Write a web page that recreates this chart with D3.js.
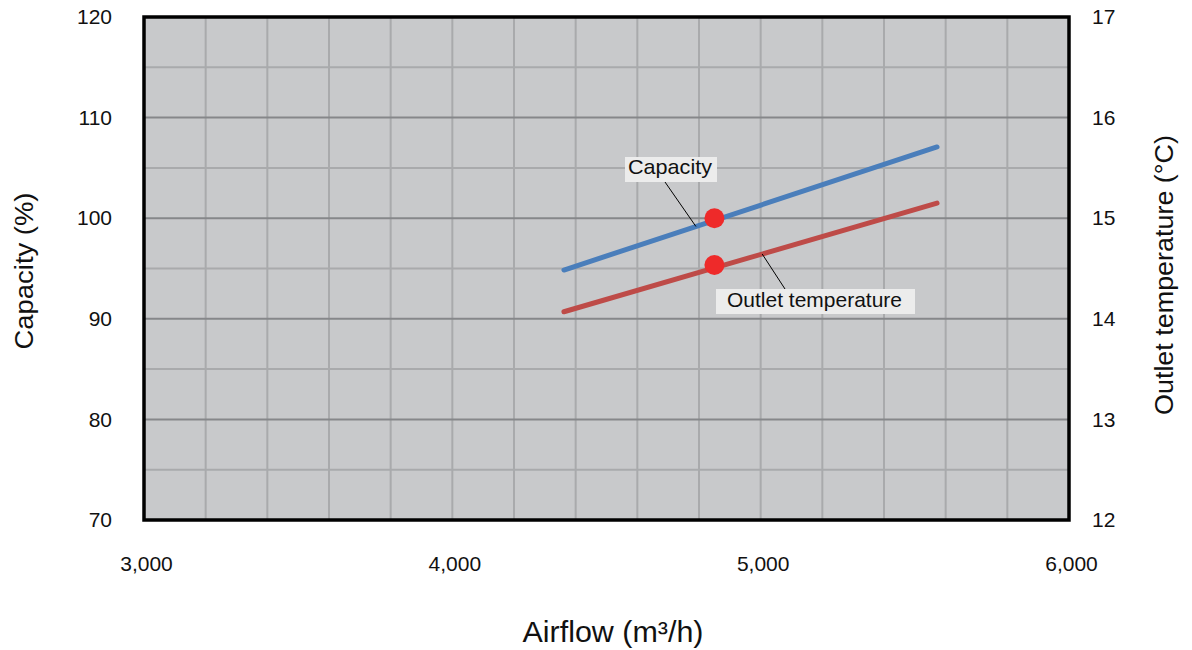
<!DOCTYPE html>
<html><head><meta charset="utf-8">
<script src="https://cdn.jsdelivr.net/npm/d3@7"></script>
<style>body{margin:0;background:#fff;} text{font-family:"Liberation Sans",Arial,sans-serif;}</style>
</head><body>
<svg id="c" width="1192" height="650"></svg>
<script>
const airflow = [4362, 5572];
const capacity = [94.85, 107.08];
const outletTemp = [14.07, 15.15];
const markerAirflow = [4850];
const markerCapacity = [100];
const markerTemp = [14.535];
const xTicks = [3000, 4000, 5000, 6000];
const yLeftTicks = [70, 80, 90, 100, 110, 120];
const yRightTicks = [12, 13, 14, 15, 16, 17];

const svg = d3.select("#c");
const FONT = "Liberation Sans, Arial, sans-serif";
const L = 144, R = 1069, T = 17, B = 520;
const x = d3.scaleLinear().domain([3000, 6000]).range([L, R]);
const y = d3.scaleLinear().domain([70, 120]).range([B, T]);
const y2 = d3.scaleLinear().domain([12, 17]).range([B, T]);

svg.append("rect").attr("x", L).attr("y", T).attr("width", R - L).attr("height", B - T).attr("fill", "#c8c9cb");

// vertical grid
svg.append("g").selectAll("line").data(d3.range(3200, 6000, 200)).join("line")
  .attr("x1", d => x(d)).attr("x2", d => x(d)).attr("y1", T).attr("y2", B)
  .attr("stroke", "#a9aaac").attr("stroke-width", 2);
// horizontal minor
svg.append("g").selectAll("line").data(d3.range(75, 120, 10)).join("line")
  .attr("x1", L).attr("x2", R).attr("y1", d => y(d)).attr("y2", d => y(d))
  .attr("stroke", "#a9aaac").attr("stroke-width", 2);
// horizontal major
svg.append("g").selectAll("line").data(d3.range(80, 120, 10)).join("line")
  .attr("x1", L).attr("x2", R).attr("y1", d => y(d)).attr("y2", d => y(d))
  .attr("stroke", "#86878a").attr("stroke-width", 2);

svg.append("rect").attr("x", L).attr("y", T).attr("width", R - L).attr("height", B - T)
  .attr("fill", "none").attr("stroke", "#000").attr("stroke-width", 3.5);

// axes via d3
const gx = svg.append("g").attr("transform", `translate(2,556)`)
  .call(d3.axisBottom(x).tickValues(xTicks).tickFormat(d3.format(",")).tickSize(0).tickPadding(0));
const gyl = svg.append("g").attr("transform", `translate(112,0)`)
  .call(d3.axisLeft(y).tickValues(yLeftTicks).tickSize(0).tickPadding(0));
const gyr = svg.append("g").attr("transform", `translate(1092,0)`)
  .call(d3.axisRight(y2).tickValues(yRightTicks).tickFormat(d3.format("d")).tickSize(0).tickPadding(0));
[gx, gyl, gyr].forEach(g => {
  g.select(".domain").remove();
  g.attr("font-size", 21).attr("font-family", FONT);
  g.selectAll("text").attr("fill", "#111");
});

// axis titles
svg.append("text").attr("x", 613).attr("y", 642).attr("text-anchor", "middle")
  .attr("font-size", 29).attr("fill", "#111").attr("textLength", 181).attr("lengthAdjust", "spacingAndGlyphs")
  .text("Airflow (m³/h)");
svg.append("text").attr("transform", "translate(33,271) rotate(-90)").attr("text-anchor", "middle")
  .attr("font-size", 26).attr("fill", "#111").attr("textLength", 157).attr("lengthAdjust", "spacingAndGlyphs")
  .text("Capacity (%)");
svg.append("text").attr("transform", "translate(1173,275) rotate(-90)").attr("text-anchor", "middle")
  .attr("font-size", 26).attr("fill", "#111").attr("textLength", 280).attr("lengthAdjust", "spacingAndGlyphs")
  .text("Outlet temperature (°C)");

// lines
const capData = airflow.map((a, i) => [a, capacity[i]]);
const tempData = airflow.map((a, i) => [a, outletTemp[i]]);
svg.append("path").datum(capData)
  .attr("d", d3.line().x(d => x(d[0])).y(d => y(d[1])))
  .attr("stroke", "#4a7ebb").attr("stroke-width", 5).attr("fill", "none").attr("stroke-linecap", "round");
svg.append("path").datum(tempData)
  .attr("d", d3.line().x(d => x(d[0])).y(d => y2(d[1])))
  .attr("stroke", "#be4b48").attr("stroke-width", 5).attr("fill", "none").attr("stroke-linecap", "round");

// leader lines & labels
function lerp(arrX, arrY, xv) { const t = (xv - arrX[0]) / (arrX[1] - arrX[0]); return arrY[0] + t * (arrY[1] - arrY[0]); }
svg.append("line").attr("x1", 665).attr("y1", 182).attr("x2", x(4790)).attr("y2", y(lerp(airflow, capacity, 4790)))
  .attr("stroke", "#000").attr("stroke-width", 1);
svg.append("line").attr("x1", x(5005)).attr("y1", y2(lerp(airflow, outletTemp, 5005))).attr("x2", 785).attr("y2", 289)
  .attr("stroke", "#000").attr("stroke-width", 1);

function label(txt, bx, by, bw, bh, tx, ty, tw) {
  svg.append("rect").attr("x", bx).attr("y", by).attr("width", bw).attr("height", bh).attr("fill", "#ececec");
  svg.append("text").attr("x", tx).attr("y", ty).attr("font-size", 21).attr("fill", "#111")
    .attr("textLength", tw).attr("lengthAdjust", "spacingAndGlyphs").text(txt);
}
label("Capacity", 625, 157, 92, 25, 628, 174, 84);
label("Outlet temperature", 716, 289, 199, 25, 727, 307, 175);

// markers
svg.append("g").selectAll("circle").data(markerAirflow.map((a, i) => [a, markerCapacity[i]])).join("circle")
  .attr("cx", d => x(d[0])).attr("cy", d => y(d[1])).attr("r", 10).attr("fill", "#ee2a2a");
svg.append("g").selectAll("circle").data(markerAirflow.map((a, i) => [a, markerTemp[i]])).join("circle")
  .attr("cx", d => x(d[0])).attr("cy", d => y2(d[1])).attr("r", 10).attr("fill", "#ee2a2a");
</script>
</body></html>
